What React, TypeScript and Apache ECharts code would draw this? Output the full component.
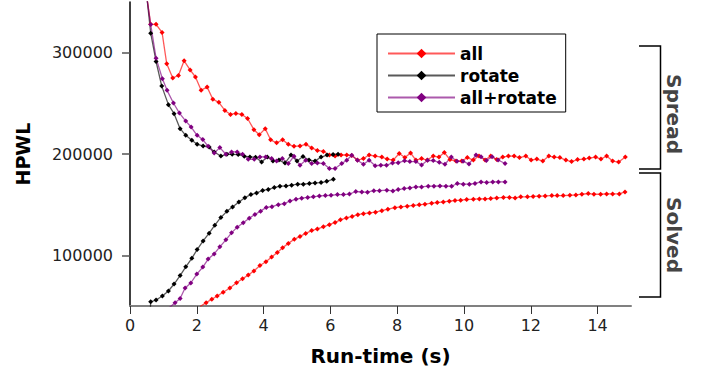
import React, { useEffect, useRef } from "react";
import * as echarts from "echarts";

// ---- data: [run-time (s), HPWL] ----
const allSpread: [number, number][] = [
  [0.45, 368000], [0.62, 328000], [0.78, 328000], [0.96, 320000], [1.10, 289000], [1.28, 275000],
  [1.45, 277500], [1.62, 292000], [1.80, 283000], [1.96, 276000], [2.13, 263000], [2.31, 266000],
  [2.48, 254000], [2.66, 251000], [2.84, 243000], [3.01, 239000], [3.17, 240000], [3.35, 239000],
  [3.52, 235000], [3.71, 224000], [3.87, 219000], [4.05, 225000], [4.21, 214000], [4.39, 211000],
  [4.57, 214000], [4.74, 209500], [4.91, 207600], [5.09, 208000], [5.27, 209500], [5.44, 206000],
  [5.61, 203500], [5.79, 202500], [5.97, 199000], [6.14, 198000], [6.32, 199000], [6.49, 199000],
  [6.64, 198500], [6.81, 194000], [6.99, 195500], [7.16, 199000], [7.34, 198000], [7.54, 197000],
  [7.70, 195000], [7.88, 194000], [8.06, 200500], [8.23, 196500], [8.40, 201000], [8.56, 194000],
  [8.73, 195500], [8.90, 194000], [9.08, 198000], [9.25, 197000], [9.41, 201500], [9.58, 194500],
  [9.76, 193000], [9.93, 193000], [10.10, 196500], [10.28, 194000], [10.45, 198000], [10.63, 194000],
  [10.80, 198000], [10.98, 194500], [11.16, 197000], [11.33, 198000], [11.50, 198000], [11.66, 196500],
  [11.85, 198000], [12.01, 194000], [12.18, 195000], [12.36, 193000], [12.54, 198000], [12.70, 197000],
  [12.87, 196500], [13.05, 194000], [13.22, 192500], [13.40, 194500], [13.59, 195000], [13.75, 196000],
  [13.94, 197000], [14.10, 195000], [14.27, 198000], [14.45, 193000], [14.63, 192000], [14.83, 197000],
];

const allSolved: [number, number][] = [
  [2.10, 49500], [2.28, 53300], [2.45, 56600], [2.61, 59850], [2.79, 63500], [2.99, 67700],
  [3.19, 72950], [3.37, 76900], [3.54, 80500], [3.71, 84500], [3.89, 89900], [4.07, 93600],
  [4.24, 98300], [4.41, 102900], [4.57, 107400], [4.74, 111800], [4.92, 115800], [5.09, 118700],
  [5.26, 121600], [5.44, 124400], [5.61, 126000], [5.79, 128100], [5.97, 130300], [6.14, 132500],
  [6.30, 135000], [6.48, 136900], [6.65, 138400], [6.82, 140100], [6.99, 141100], [7.17, 141800],
  [7.35, 142600], [7.54, 144100], [7.72, 145500], [7.93, 147000], [8.11, 147800], [8.30, 148500],
  [8.48, 149200], [8.66, 149800], [8.83, 150500], [9.03, 151500], [9.20, 152100], [9.38, 152700],
  [9.56, 153400], [9.73, 154100], [9.90, 154400], [10.08, 155100], [10.28, 155400], [10.46, 155700],
  [10.63, 155700], [10.80, 156100], [10.98, 156700], [11.18, 157100], [11.36, 157100], [11.53, 156700],
  [11.70, 157700], [11.90, 157700], [12.07, 158100], [12.25, 158400], [12.43, 158600], [12.63, 159000],
  [12.79, 159000], [12.97, 159000], [13.17, 159300], [13.35, 159600], [13.53, 160300], [13.72, 161000],
  [13.89, 160300], [14.09, 160300], [14.27, 160600], [14.45, 160600], [14.65, 160600], [14.82, 162600],
];

const rotateSpread: [number, number][] = [
  [0.45, 372000], [0.62, 319200], [0.78, 291300], [0.95, 267000], [1.15, 248700], [1.32, 239800],
  [1.50, 225000], [1.67, 218400], [1.85, 213500], [2.01, 209600], [2.19, 207900], [2.37, 206900],
  [2.52, 202000], [2.72, 198000], [2.90, 199700], [3.06, 199700], [3.24, 199400], [3.42, 197800],
  [3.59, 197100], [3.76, 196800], [3.94, 192000], [4.11, 197000], [4.28, 193000], [4.46, 194000],
  [4.64, 191000], [4.82, 199000], [5.00, 193000], [5.18, 197500], [5.36, 194000], [5.54, 193000],
  [5.72, 197000], [5.90, 199000], [6.08, 199500], [6.23, 199800],
];

const rotateSolved: [number, number][] = [
  [0.60, 40000], [0.62, 54200], [0.78, 55900], [0.97, 59850], [1.15, 64800], [1.32, 71700],
  [1.50, 80000], [1.67, 88700], [1.85, 97000], [2.01, 105700], [2.19, 114200], [2.37, 121900],
  [2.54, 129800], [2.72, 137400], [2.90, 143400], [3.07, 147800], [3.26, 152700], [3.44, 156900],
  [3.62, 160000], [3.79, 161600], [3.97, 164000], [4.14, 165000], [4.32, 166900], [4.49, 168200],
  [4.67, 168500], [4.84, 169200], [5.02, 170200], [5.19, 170200], [5.37, 170900], [5.54, 171500],
  [5.72, 171800], [5.89, 173100], [6.09, 175100],
];

const allRotateSpread: [number, number][] = [
  [0.45, 366000], [0.62, 327700], [0.78, 294600], [0.97, 274300], [1.11, 262800], [1.30, 250300],
  [1.48, 240400], [1.67, 232500], [1.83, 226600], [2.01, 218400], [2.18, 214200], [2.34, 207600],
  [2.52, 201000], [2.69, 206300], [2.87, 199700], [3.04, 202000], [3.21, 202000], [3.37, 199700],
  [3.54, 194800], [3.72, 194800], [3.89, 197100], [4.06, 197100], [4.24, 195500], [4.39, 193100],
  [4.56, 195500], [4.74, 190600], [4.91, 197800], [5.09, 188900], [5.26, 193800], [5.44, 190600],
  [5.61, 191200], [5.79, 190600], [5.97, 185600], [6.14, 185600], [6.34, 190600], [6.49, 193800],
  [6.64, 198700], [6.81, 193800], [6.99, 189900], [7.16, 193800], [7.34, 188400], [7.51, 188900],
  [7.68, 188900], [7.86, 191200], [8.03, 191400], [8.22, 193300], [8.38, 192600], [8.56, 192500],
  [8.73, 189200], [8.91, 193800], [9.08, 193500], [9.26, 191800], [9.43, 189900], [9.62, 197100],
  [9.79, 192800], [9.97, 192800], [10.15, 190200], [10.36, 199000], [10.51, 197300], [10.67, 193500],
  [10.84, 197300], [11.02, 194100], [11.23, 190600],
];

const allRotateSolved: [number, number][] = [
  [1.18, 48500], [1.35, 53250], [1.50, 57400], [1.65, 67700], [1.82, 72700], [2.00, 81500],
  [2.18, 88400], [2.34, 96300], [2.52, 101400], [2.69, 108400], [2.87, 115300], [3.04, 122200],
  [3.21, 127800], [3.39, 132200], [3.57, 136700], [3.74, 140300], [3.91, 143600], [4.08, 147300],
  [4.25, 148000], [4.44, 150000], [4.62, 151000], [4.79, 153600], [4.97, 155400], [5.14, 156400],
  [5.32, 157100], [5.49, 157700], [5.67, 158600], [5.85, 159000], [6.02, 159300], [6.21, 160000],
  [6.39, 160000], [6.57, 160500], [6.76, 163000], [6.94, 162500], [7.11, 162300], [7.30, 163800],
  [7.47, 163800], [7.69, 164300], [7.87, 163600], [8.03, 164900], [8.21, 165900], [8.38, 166500],
  [8.56, 167500], [8.73, 167500], [8.93, 168200], [9.10, 168200], [9.28, 168500], [9.46, 168200],
  [9.63, 168200], [9.80, 170900], [9.98, 170200], [10.16, 170200], [10.33, 170900], [10.51, 172400],
  [10.68, 171800], [10.86, 172400], [11.03, 172400], [11.23, 172400],
];

const legendNames = ["all", "rotate", "all+rotate"];
const yTickValues = [100000, 200000, 300000];
const xTickValues = [0, 2, 4, 6, 8, 10, 12, 14];
const groupLabels = ["Spread", "Solved"];

const COLORS: Record<string, string> = { all: "#ff0000", rotate: "#000000", "all+rotate": "#800080" };
const FONT = "DejaVu Sans";

function mkSeries(name: string, data: [number, number][]) {
  return {
    name,
    type: "line",
    data,
    symbol: "diamond",
    symbolSize: 5,
    showSymbol: true,
    clip: true,
    lineStyle: { color: COLORS[name], width: 1.3, opacity: 0.65 },
    itemStyle: { color: COLORS[name] },
    emphasis: { disabled: true },
  };
}

export default function App() {
  const ref = useRef<HTMLDivElement>(null);
  useEffect(() => {
    if (!ref.current) return;
    const chart = echarts.init(ref.current, undefined, { renderer: "svg" });
    chart.setOption({
      animation: false,
      backgroundColor: "#ffffff",
      grid: { left: 130, right: 77, top: 2, bottom: 70, containLabel: false },
      legend: {
        data: legendNames,
        orient: "vertical",
        left: 377,
        top: 34,
        padding: [11, 9, 6, 10],
        itemWidth: 67,
        itemHeight: 12,
        itemGap: 5,
        borderColor: "#000",
        borderWidth: 1,
        backgroundColor: "#fff",
        textStyle: { fontFamily: FONT, fontWeight: "bold", fontSize: 17, color: "#000", lineHeight: 17 },
      },
      xAxis: {
        type: "value",
        min: 0,
        max: 15,
        name: "Run-time (s)",
        nameLocation: "middle",
        nameGap: 40,
        nameTextStyle: { fontFamily: FONT, fontWeight: "bold", fontSize: 20, color: "#000" },
        axisLine: { show: true, lineStyle: { color: "#808080", width: 2 } },
        axisTick: { show: true, length: 8, customValues: xTickValues, lineStyle: { color: "#333", width: 1 } },
        axisLabel: { fontFamily: FONT, fontSize: 16, color: "#222", margin: 11, customValues: xTickValues },
        splitLine: { show: false },
      },
      yAxis: {
        type: "value",
        min: 50000,
        max: 350000,
        name: "HPWL",
        nameLocation: "middle",
        nameGap: 98,
        nameTextStyle: { fontFamily: FONT, fontWeight: "bold", fontSize: 19, color: "#000" },
        axisLine: { show: true, lineStyle: { color: "#000", width: 1.5 } },
        axisTick: { show: true, length: 8, customValues: yTickValues, lineStyle: { color: "#555", width: 1.5 } },
        axisLabel: {
          fontFamily: FONT, fontSize: 16, color: "#222", margin: 17, customValues: yTickValues,
          formatter: (v: number) => String(v),
        },
        splitLine: { show: false },
      },
      graphic: [
        { type: "polyline", shape: { points: [[639, 46], [660.5, 46], [660.5, 169], [639, 169]] }, style: { stroke: "#000", lineWidth: 1.5, fill: null } },
        { type: "polyline", shape: { points: [[639, 173], [660.5, 173], [660.5, 297], [639, 297]] }, style: { stroke: "#000", lineWidth: 1.5, fill: null } },
        { type: "text", x: 674, y: 114, rotation: -Math.PI / 2, style: { text: groupLabels[0], fill: "#444", font: `bold 20px '${FONT}'`, align: "center", verticalAlign: "middle" } },
        { type: "text", x: 674, y: 235, rotation: -Math.PI / 2, style: { text: groupLabels[1], fill: "#444", font: `bold 20px '${FONT}'`, align: "center", verticalAlign: "middle" } },
      ],
      series: [
        mkSeries("all", allSpread),
        mkSeries("all", allSolved),
        mkSeries("rotate", rotateSpread),
        mkSeries("rotate", rotateSolved),
        mkSeries("all+rotate", allRotateSpread),
        mkSeries("all+rotate", allRotateSolved),
      ],
    });
    return () => chart.dispose();
  }, []);
  return <div ref={ref} style={{ position: "fixed", left: 0, top: 0, width: 708, height: 376 }} />;
}
